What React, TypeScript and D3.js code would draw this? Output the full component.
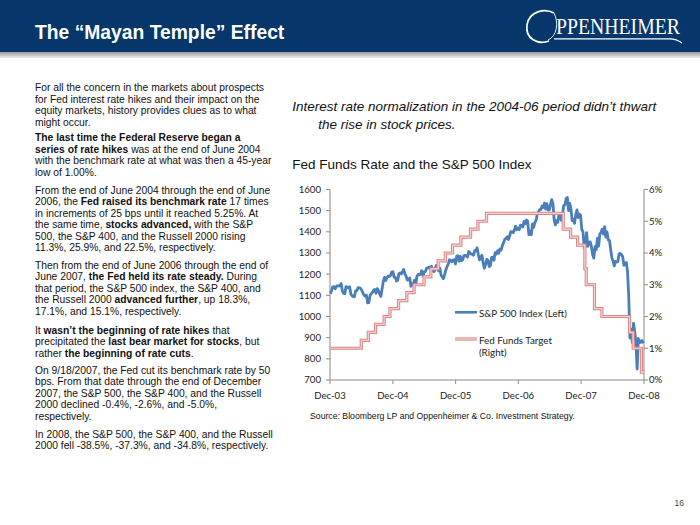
import React from "react";
import * as d3 from "d3";

// ---------- DATA ----------
const xTickDates = ["2003-12-31", "2004-12-31", "2005-12-31", "2006-12-31", "2007-12-31", "2008-12-31"];
const xTickLabels = ["Dec-03", "Dec-04", "Dec-05", "Dec-06", "Dec-07", "Dec-08"];
const leftTicks = [700, 800, 900, 1000, 1100, 1200, 1300, 1400, 1500, 1600];
const rightTicks = [0, 1, 2, 3, 4, 5, 6];

// S&P 500 weekly (Fridays) starting 2004-01-02
const spxFirstWeek = "2004-01-02";
const spx2004 = [1108, 1122, 1140, 1141, 1131, 1142, 1146, 1144, 1145, 1156, 1120, 1109, 1108, 1141, 1139, 1135, 1141, 1107, 1098, 1095, 1093, 1121, 1122, 1136, 1135, 1134, 1125, 1112, 1101, 1096, 1101, 1064, 1065, 1099, 1107, 1114, 1124, 1128, 1110, 1132, 1122, 1108, 1095, 1130, 1166, 1185, 1170, 1183, 1191, 1189, 1194, 1210, 1212];
const spx2005 = [1186, 1185, 1168, 1171, 1203, 1206, 1201, 1212, 1222, 1200, 1190, 1172, 1173, 1182, 1143, 1152, 1156, 1172, 1155, 1190, 1199, 1197, 1201, 1217, 1191, 1211, 1212, 1228, 1229, 1234, 1226, 1237, 1220, 1212, 1219, 1241, 1238, 1215, 1229, 1196, 1187, 1179, 1198, 1220, 1235, 1248, 1268, 1265, 1259, 1267, 1268, 1248];
const spx2006 = [1285, 1287, 1261, 1284, 1264, 1267, 1288, 1289, 1287, 1281, 1307, 1302, 1295, 1295, 1289, 1311, 1310, 1325, 1292, 1267, 1280, 1289, 1253, 1228, 1245, 1270, 1265, 1236, 1240, 1279, 1280, 1266, 1302, 1295, 1311, 1299, 1319, 1314, 1336, 1349, 1365, 1368, 1377, 1364, 1380, 1401, 1400, 1396, 1409, 1427, 1410, 1418];
const spx2007 = [1410, 1431, 1430, 1423, 1449, 1438, 1456, 1451, 1387, 1402, 1386, 1437, 1421, 1444, 1453, 1484, 1494, 1505, 1505, 1522, 1515, 1536, 1507, 1533, 1503, 1503, 1530, 1552, 1534, 1459, 1433, 1453, 1445, 1479, 1474, 1454, 1484, 1525, 1527, 1557, 1562, 1500, 1535, 1509, 1453, 1458, 1440, 1481, 1504, 1467, 1484, 1478];
const spx2008 = [1411, 1401, 1325, 1330, 1396, 1332, 1349, 1353, 1331, 1293, 1276, 1330, 1316, 1370, 1332, 1390, 1398, 1413, 1389, 1425, 1375, 1400, 1361, 1360, 1318, 1278, 1262, 1239, 1260, 1257, 1260, 1296, 1298, 1292, 1283, 1242, 1252, 1255, 1213, 1099, 899, 940, 877, 968, 930, 873, 752, 896, 876, 879, 887, 873];

// Fed funds target changes
const fedDates = ["2003-12-31", "2004-06-30", "2004-08-10", "2004-09-21", "2004-11-10", "2004-12-14", "2005-02-02", "2005-03-22", "2005-05-03", "2005-06-30", "2005-08-09", "2005-09-20", "2005-11-01", "2005-12-13", "2006-01-31", "2006-03-28", "2006-05-10", "2006-06-29", "2007-09-18", "2007-10-31", "2007-12-11", "2008-01-22", "2008-01-30", "2008-03-18", "2008-04-30", "2008-10-08", "2008-10-29", "2008-12-16", "2008-12-31"];
const fedRates = [1.0, 1.25, 1.5, 1.75, 2.0, 2.25, 2.5, 2.75, 3.0, 3.25, 3.5, 3.75, 4.0, 4.25, 4.5, 4.75, 5.0, 5.25, 4.75, 4.5, 4.25, 3.5, 3.0, 2.25, 2.0, 1.5, 1.0, 0.25, 0.25];

const legendLabels = ["S&P 500 Index (Left)", "Fed Funds Target", "(Right)"];

const headerTitle = "The \u201CMayan Temple\u201D Effect";
const subtitleLines = ["Interest rate normalization in the 2004-06 period didn\u2019t thwart", "the rise in stock prices."];
const chartTitle = "Fed Funds Rate and the S&P 500 Index";
const sourceText = "Source:  Bloomberg LP and Oppenheimer & Co. Investment Strategy.";
const pageNumber = "16";

// Left text: *...* marks bold
const paragraphs: { y: number; lines: string[] }[] = [
  { y: 91, lines: ["For all the concern in the markets about prospects", "for Fed interest rate hikes and their impact on the", "equity markets, history provides clues as to what", "might occur."] },
  { y: 141, lines: ["*The last time the Federal Reserve began a*", "*series of rate hikes* was at the end of June 2004", "with the benchmark rate at what was then a 45-year", "low of 1.00%."] },
  { y: 193.8, lines: ["From the end of June 2004 through the end of June", "2006, the *Fed raised its benchmark rate* 17 times", "in increments of 25 bps until it reached 5.25%. At", "the same time, *stocks advanced,* with the S&P", "500, the S&P 400, and the Russell 2000 rising", "11.3%, 25.9%, and 22.5%, respectively."] },
  { y: 268.8, lines: ["Then from the end of June 2006 through the end of", "June 2007, *the Fed held its rate steady.* During", "that period, the S&P 500 index, the S&P 400, and", "the Russell 2000 *advanced further*, up 18.3%,", "17.1%, and 15.1%, respectively."] },
  { y: 333.8, lines: ["It *wasn\u2019t the beginning of rate hikes* that", "precipitated the *last bear market for stocks*, but", "rather *the beginning of rate cuts*."] },
  { y: 373.5, lines: ["On 9/18/2007, the Fed cut its benchmark rate by 50", "bps. From that date through the end of December", "2007, the S&P 500, the S&P 400, and the Russell", "2000 declined -0.4%, -2.6%, and -5.0%,", "respectively."] },
  { y: 437.5, lines: ["In 2008, the S&P 500, the S&P 400, and the Russell", "2000 fell -38.5%, -37.3%, and -34.8%, respectively."] },
];

// ---------- COMPONENT ----------
const parse = d3.timeParse("%Y-%m-%d");
const ARIAL = "'Liberation Sans', Arial, Helvetica, sans-serif";
const CAL = "Lato, 'Open Sans', sans-serif";

export default function App() {
  const left = 330, right = 644, top = 189.5, bottom = 380;
  const x = d3.scaleTime().domain([parse("2003-12-31")!, parse("2008-12-31")!]).range([left, right]);
  const yL = d3.scaleLinear().domain([700, 1600]).range([bottom, top]);
  const yR = d3.scaleLinear().domain([0, 6]).range([bottom, top]);

  const spxValues = [...spx2004, ...spx2005, ...spx2006, ...spx2007, ...spx2008];
  const first = parse(spxFirstWeek)!;
  const spx = spxValues.map((v, i) => ({ d: d3.timeDay.offset(first, 7 * i), v }));
  const fed = fedDates.map((s, i) => ({ d: parse(s)!, v: fedRates[i] }));

  const spxLine = d3.line<{ d: Date; v: number }>().x((p) => x(p.d)).y((p) => yL(p.v))(spx) || "";
  const fedLine = d3.line<{ d: Date; v: number }>().curve(d3.curveStepAfter).x((p) => x(p.d)).y((p) => yR(p.v))(fed) || "";

  const axisColor = "#8a8a8a";
  const lh = 11.5;

  const renderLine = (s: string, key: number, yy: number) => {
    const parts = s.split("*");
    return (
      <text key={key} x={35} y={yy} fontFamily={ARIAL} fontSize={10.3} fill="#111">
        {parts.map((p, i) => (
          <tspan key={i} fontWeight={i % 2 === 1 ? 700 : 400}>{p}</tspan>
        ))}
      </text>
    );
  };

  return (
    <svg width={700} height={525} style={{ position: "absolute", left: 0, top: 0, background: "#fff" }}>
      <defs>
        <linearGradient id="band" x1="0" y1="0" x2="0" y2="1">
          <stop offset="0" stopColor="#9a9a9a" />
          <stop offset="1" stopColor="#ececec" />
        </linearGradient>
      </defs>
      {/* Header */}
      <rect x={0} y={0} width={700} height={52} fill="#06366a" />
      <rect x={0} y={52} width={700} height={6} fill="url(#band)" />
      <text x={35} y={39} fontFamily={ARIAL} fontWeight={700} fontSize={19.3} fill="#fff">{headerTitle}</text>
      {/* Logo */}
      <g fill="none" stroke="#fff">
        <path d="M 554 13 C 545 8, 529 11, 527 25 C 525 39, 538 45, 549 41" strokeWidth={1.7} />
        <path d="M 548 40 C 557 36, 559 23, 554 13" strokeWidth={0.9} />
        <path d="M 554 38.8 L 670 38.8 C 674 38.8, 678 40, 682 43" strokeWidth={1.2} />
      </g>
      <text x={556} y={33.5} fontFamily="'Liberation Serif', 'DejaVu Serif', serif" fontSize={23} fill="#fff" textLength={124} lengthAdjust="spacingAndGlyphs">PPENHEIMER</text>

      {/* Left text */}
      {paragraphs.map((p, pi) => (
        <g key={pi}>{p.lines.map((l, li) => renderLine(l, li, p.y + li * lh))}</g>
      ))}

      {/* Subtitle */}
      <text x={292.3} y={111} fontFamily={ARIAL} fontStyle="italic" fontSize={13.5} fill="#111">{subtitleLines[0]}</text>
      <text x={318.3} y={129} fontFamily={ARIAL} fontStyle="italic" fontSize={13.5} fill="#111">{subtitleLines[1]}</text>
      <text x={292.3} y={168.5} fontFamily={ARIAL} fontSize={13.5} fill="#111">{chartTitle}</text>

      {/* Axes */}
      <line x1={left} x2={left} y1={top} y2={bottom} stroke={axisColor} />
      <line x1={right} x2={right} y1={top} y2={bottom} stroke={axisColor} />
      <line x1={left} x2={right} y1={bottom} y2={bottom} stroke={axisColor} />
      {leftTicks.map((t) => (
        <g key={"l" + t}>
          <line x1={left - 4} x2={left} y1={yL(t)} y2={yL(t)} stroke={axisColor} />
          <text x={321} y={yL(t) + 3.4} textAnchor="end" fontFamily={CAL} fontSize={9.6} fill="#222">{t}</text>
        </g>
      ))}
      {rightTicks.map((t) => (
        <g key={"r" + t}>
          <line x1={right} x2={right + 4} y1={yR(t)} y2={yR(t)} stroke={axisColor} />
          <text x={649} y={yR(t) + 3.4} fontFamily={CAL} fontSize={9.6} fill="#222">{t + "%"}</text>
        </g>
      ))}
      {xTickDates.map((s, i) => {
        const xx = x(parse(s)!);
        return (
          <g key={"x" + s}>
            <line x1={xx} x2={xx} y1={bottom} y2={bottom + 4} stroke={axisColor} />
            <text x={xx} y={398.5} textAnchor="middle" fontFamily={CAL} fontSize={9.6} fill="#222">{xTickLabels[i]}</text>
          </g>
        );
      })}

      {/* Series */}
      <path d={spxLine} fill="none" stroke="#4a7ebb" strokeWidth={2.8} strokeLinejoin="round" />
      <path d={fedLine} fill="none" stroke="#d98584" strokeWidth={3.2} />
      <path d={fedLine} fill="none" stroke="#f5d6d5" strokeWidth={1.2} />

      {/* Legend */}
      <line x1={455} x2={477} y1={312.3} y2={312.3} stroke="#4a7ebb" strokeWidth={2.6} />
      <text x={479} y={317.3} fontFamily={CAL} fontSize={9.8} fill="#222">{legendLabels[0]}</text>
      <line x1={455} x2={477} y1={339} y2={339} stroke="#d98584" strokeWidth={3.2} />
      <line x1={455} x2={477} y1={339} y2={339} stroke="#f5d6d5" strokeWidth={1.2} />
      <text x={479} y={343.5} fontFamily={CAL} fontSize={9.8} fill="#222">{legendLabels[1]}</text>
      <text x={479} y={356.3} fontFamily={CAL} fontSize={9.8} fill="#222">{legendLabels[2]}</text>

      {/* Source & page */}
      <text x={310} y={418.5} fontFamily={ARIAL} fontSize={8.7} fill="#111">{sourceText}</text>
      <text x={684} y={506} textAnchor="end" fontFamily={ARIAL} fontSize={8.5} fill="#444">{pageNumber}</text>
    </svg>
  );
}
